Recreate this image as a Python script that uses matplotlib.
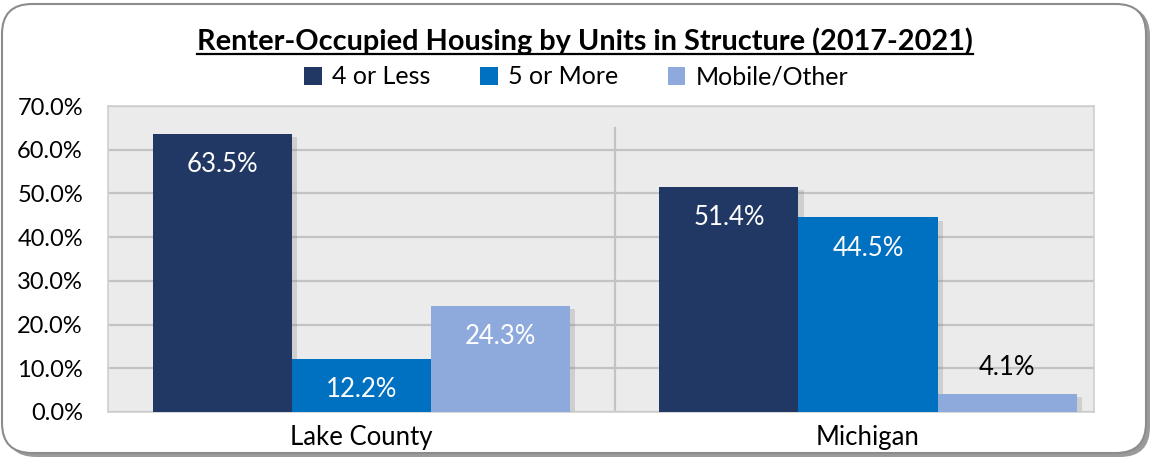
import matplotlib
matplotlib.use("Agg")
import matplotlib.pyplot as plt
from matplotlib.patches import FancyBboxPatch, Rectangle
from matplotlib.ticker import FuncFormatter
import numpy as np

plt.rcParams['font.family'] = ['Lato', 'DejaVu Sans']

categories = ["Lake County", "Michigan"]
series_names = ["4 or Less", "5 or More", "Mobile/Other"]
four_or_less = [63.5, 51.4]
five_or_more = [12.2, 44.5]
mobile_other = [24.3, 4.1]
colors = ["#213864", "#0070c0", "#8eaadc"]
yticks = [0, 10, 20, 30, 40, 50, 60, 70]

W, H = 1154, 459
fig = plt.figure(figsize=(W / 100, H / 100), dpi=100)

# rounded outer frame with a soft shadow
shadow = FancyBboxPatch((6 / W, 2 / H), (W - 10) / W, (H - 8) / H,
                        boxstyle="round,pad=0,rounding_size=0.026",
                        transform=fig.transFigure, facecolor="#9a9a9a",
                        edgecolor="none", mutation_aspect=W / H, zorder=0)
frame = FancyBboxPatch((2 / W, 6 / H), (W - 10) / W, (H - 10) / H,
                       boxstyle="round,pad=0,rounding_size=0.026",
                       transform=fig.transFigure, facecolor="white",
                       edgecolor="#8c8c8c", linewidth=1.5,
                       mutation_aspect=W / H, zorder=1)
fig.patches.extend([shadow, frame])

ax = fig.add_axes([108 / W, 1 - 412 / H, (1094 - 108) / W, (412 - 106) / H])
ax.set_facecolor("#ebebeb")
ax.set_zorder(2)

x = np.arange(len(categories))
bw = 0.2745
series = [four_or_less, five_or_more, mobile_other]
for i, (vals, col) in enumerate(zip(series, colors)):
    xs = x + (i - 1) * bw
    # drop shadow behind each bar
    for xv, v in zip(xs, vals):
        ax.add_patch(Rectangle((xv - bw / 2 + 0.01, 0), bw, v - 0.7,
                               facecolor="#7f7f7f", alpha=0.25,
                               edgecolor="none", zorder=2))
    ax.bar(xs, vals, width=bw, color=col, zorder=3, label=series_names[i])
    for xv, v in zip(xs, vals):
        if v > 8:
            ax.annotate(f"{v:.1f}%", (xv, v), xytext=(0, -22),
                        textcoords="offset points", ha="center", va="center",
                        color="white", fontsize=18.5, zorder=4)
        else:
            ax.annotate(f"{v:.1f}%", (xv, v), xytext=(0, 19),
                        textcoords="offset points", ha="center", va="center",
                        color="black", fontsize=18.5, zorder=4)

ax.set_xlim(-0.5, 1.446)
ax.set_ylim(0, 70)
ax.set_yticks(yticks)
ax.yaxis.set_major_formatter(FuncFormatter(lambda v, p: f"{v:.1f}%"))
ax.yaxis.grid(True, color="#c3c3c3", linewidth=1.6, zorder=1)
ax.set_axisbelow(True)
ax.axvline(0.5, ymin=0, ymax=(412 - 128) / (412 - 106), color="#c3c3c3",
           linewidth=1.6, zorder=1)
ax.set_xticks(x)
ax.set_xticklabels(categories, fontsize=18.5)
ax.tick_params(axis="x", length=0, pad=9)
ax.tick_params(axis="y", length=0, labelsize=17, pad=18)
for s in ax.spines.values():
    s.set_color("#cfcfcf")
    s.set_linewidth(1.2)

title = fig.text(585 / W, 1 - 41 / H,
                 "Renter-Occupied Housing by Units in Structure (2017-2021)",
                 ha="center", va="center", fontsize=20.8, fontweight="bold")
# underline sized to the drawn title
fig.canvas.draw()
bb = title.get_window_extent().transformed(fig.transFigure.inverted())
fig.add_artist(plt.Line2D([bb.x0, bb.x1], [1 - 54 / H, 1 - 54 / H],
                          color="black", linewidth=1.6,
                          transform=fig.transFigure))

handles, labels = ax.get_legend_handles_labels()
fig.legend(handles, labels, loc="center", bbox_to_anchor=(576 / W, 1 - 77 / H),
           ncol=3, frameon=False, fontsize=18, handlelength=0.7,
           handleheight=0.7, handletextpad=0.4, columnspacing=2.0)

fig.savefig("out.png", dpi=100)
